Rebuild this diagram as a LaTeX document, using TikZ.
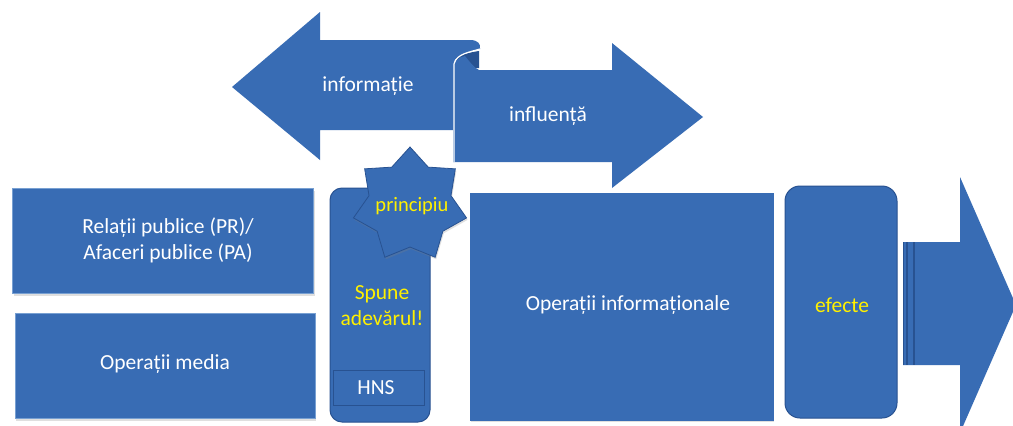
\documentclass[tikz,border=0pt]{standalone}
\usepackage{fontspec}
\setmainfont{Carlito}
\usetikzlibrary{shapes.geometric,shadows}
\definecolor{bfill}{RGB}{56,108,180}
\definecolor{bdark}{RGB}{40,82,145}
\definecolor{bedge}{RGB}{120,160,210}
\definecolor{ytext}{RGB}{255,240,0}
\tikzset{
  blk/.style={fill=bfill, draw=bedge, line width=1pt},
  rblk/.style={fill=bfill, draw=bdark, line width=1pt, rounded corners=12pt},
  shad/.style={drop shadow={shadow xshift=1pt, shadow yshift=-2pt, opacity=0.25}},
  wtxt/.style={text=white, font=\fontsize{21.5}{26}\selectfont, align=center},
  ytxt/.style={text=ytext, font=\fontsize{21.5}{26}\selectfont, align=center},
}
\begin{document}
\begin{tikzpicture}[x=1pt,y=-1pt]
\useasboundingbox (0,0) rectangle (1013,426);
\fill[white] (0,0) rectangle (1013,426);

% left arrow (informatie)
\path[fill=bfill] (232,87) -- (320,12) -- (320,40) -- (470,40)
  .. controls (478,40) and (481,44) .. (480,49)
  .. controls (470,52) and (458,54) .. (455,60)
  -- (455,130) -- (320,130) -- (320,160) -- cycle;
% back of curl
\path[fill=bdark] (456,58) .. controls (462,54) and (472,52) .. (479,51) -- (479,68) -- (456,68) -- cycle;
% right arrow (influenta)
\path[fill=bfill] (453,162) -- (453,70)
  .. controls (453,62) and (458,57) .. (465,56)
  .. controls (470,62) and (474,68) .. (479,70)
  -- (612,70) -- (612,43) -- (703,117) -- (612,188) -- (612,162) -- cycle;
\draw[white, line width=1.2pt] (480,49) .. controls (470,52) and (456,54) .. (454,64) -- (454,162);
\node[wtxt] (info) at (368,86) {informație};
\node[wtxt] (infl) at (548,116) {influență};

% left boxes
\node[blk, shad, minimum width=301pt, minimum height=105pt] (pr) at (163,241) {};
\node[wtxt] (prtxt) at (168,240) {Relații publice (PR)/\\Afaceri publice (PA)};
\node[blk, shad, minimum width=300pt, minimum height=105pt] (om) at (165,366) {};
\node[wtxt] (omtxt) at (165,364) {Operații media};

% tall HNS box
\node[rblk, minimum width=100pt, minimum height=234pt] (hns) at (380,305) {};
\draw[bdark, line width=1pt, fill=bfill] (333,370) rectangle (424,405);
\node[wtxt] (hnstxt) at (376,388) {HNS};
\node[ytxt] (spune) at (382,306) {Spune\\adevărul!};

% star
\node[star, star points=7, star point ratio=1.38, minimum size=116pt, inner sep=0pt,
      fill=bfill, draw=bdark, line width=0.8pt, shad] (star) at (410,205) {};
\node[ytxt, font=\fontsize{20.5}{24}\selectfont] (princ) at (412,206) {principiu};

% Operatii informationale
\node[blk, draw=bfill, shad, minimum width=303pt, minimum height=227pt] (oi) at (621.5,306.5) {};
\node[wtxt] (oitxt) at (628,305) {Operații informaționale};

% efecte
\node[rblk, rounded corners=15pt, minimum width=112pt, minimum height=232pt] (ef) at (841,302) {};
\node[ytxt] (eftxt) at (842,305) {efecte};

% big right arrow
\path[fill=bfill] (903,242) -- (960,242) -- (960,177) -- (1016,305) -- (960,433) -- (960,365) -- (903,365) -- cycle;
\draw[bdark, line width=1.5pt] (907,242) -- (907,365);
\draw[bdark, line width=1.5pt] (914,242) -- (914,365);
\draw[bdark, line width=0.8pt] (903,242) -- (903,365);
\end{tikzpicture}
\end{document}
